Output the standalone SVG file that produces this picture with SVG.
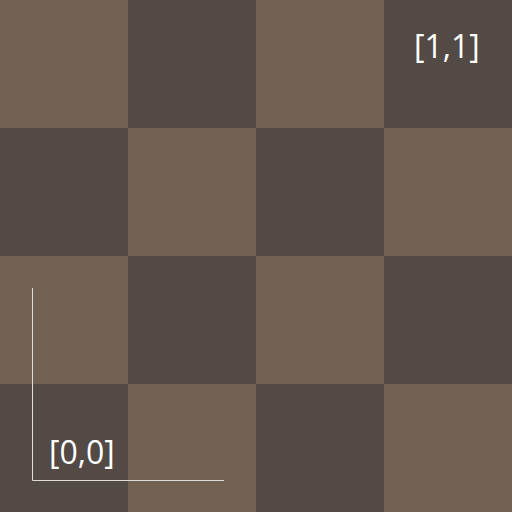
<svg xmlns="http://www.w3.org/2000/svg" width="512" height="512" viewBox="0 0 512 512">
<style>
.l{fill:#726254}.d{fill:#534a45}
.t{font-family:"Open Sans","Noto Sans",sans-serif;font-size:32px;fill:#ffffff}
</style>
<rect class="l" x="0" y="0" width="512" height="512"/>
<g class="d">
<rect x="128" y="0" width="128" height="128"/>
<rect x="384" y="0" width="128" height="128"/>
<rect x="0" y="128" width="128" height="128"/>
<rect x="256" y="128" width="128" height="128"/>
<rect x="128" y="256" width="128" height="128"/>
<rect x="384" y="256" width="128" height="128"/>
<rect x="0" y="384" width="128" height="128"/>
<rect x="256" y="384" width="128" height="128"/>
</g>
<path d="M32.5 288V480.5H224" fill="none" stroke="#e0dcd8" stroke-width="1"/>
<text class="t" x="49" y="464">[0,0]</text>
<text class="t" x="414" y="58">[1,1]</text>
</svg>
